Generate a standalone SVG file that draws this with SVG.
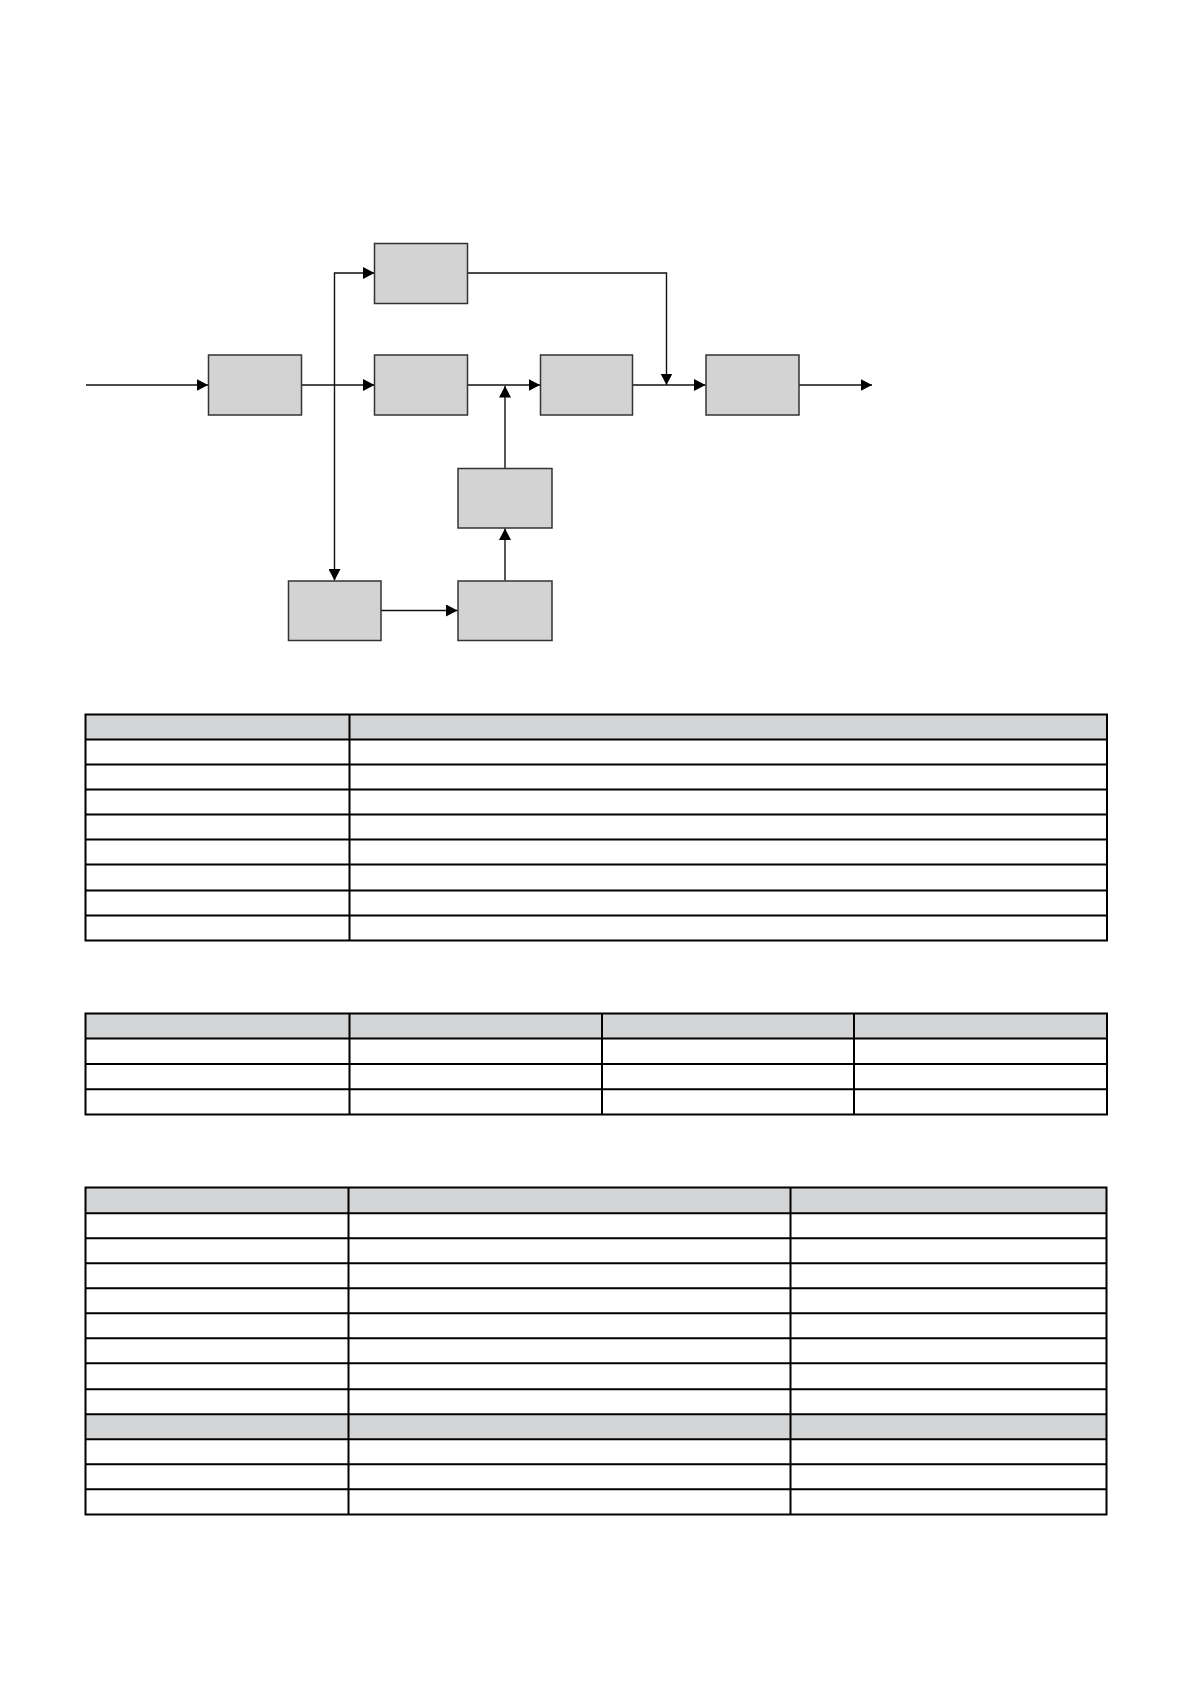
<svg xmlns="http://www.w3.org/2000/svg" width="1190" height="1684" viewBox="0 0 1190 1684">
<style>
.node{fill:#d3d3d3;stroke:#333;stroke-width:1.5}
.conn{fill:none;stroke:#111;stroke-width:1.4}
.tbl{fill:none;stroke:#000;stroke-width:2}
.hdr{fill:#d4d5d7;stroke:none}
</style>
<defs>
<marker id="arr" markerUnits="userSpaceOnUse" markerWidth="12" markerHeight="12" refX="11.5" refY="6" orient="auto">
<path d="M0,0 L11.5,6 L0,12 z" fill="#000"/>
</marker>
</defs>
<rect width="1190" height="1684" fill="#fff"/>
<g id="connectors">
<path class="conn" d="M86,385 H208" marker-end="url(#arr)"/>
<path class="conn" d="M301.5,385 H374.5" marker-end="url(#arr)"/>
<path class="conn" d="M334.5,385 V273 H374.5" marker-end="url(#arr)"/>
<path class="conn" d="M334.5,385 V580.5" marker-end="url(#arr)"/>
<path class="conn" d="M467.5,273 H666.5 V385" marker-end="url(#arr)"/>
<path class="conn" d="M467.5,385 H540" marker-end="url(#arr)"/>
<path class="conn" d="M632.5,385 H705.5" marker-end="url(#arr)"/>
<path class="conn" d="M798.5,385 H872" marker-end="url(#arr)"/>
<path class="conn" d="M381,610.5 H457.5" marker-end="url(#arr)"/>
<path class="conn" d="M505,580.5 V528.5" marker-end="url(#arr)"/>
<path class="conn" d="M505,468.5 V386" marker-end="url(#arr)"/>
</g>
<g id="node-in"><rect class="node" x="208.5" y="355" width="93" height="60"/></g>
<g id="node-top"><rect class="node" x="374.5" y="243.5" width="93" height="60"/></g>
<g id="node-mid1"><rect class="node" x="374.5" y="355" width="93" height="60"/></g>
<g id="node-mid2"><rect class="node" x="540.5" y="355" width="92" height="60"/></g>
<g id="node-out"><rect class="node" x="706" y="355" width="93" height="60"/></g>
<g id="node-feed"><rect class="node" x="458" y="468.5" width="94" height="59.5"/></g>
<g id="node-bl"><rect class="node" x="288.5" y="581" width="92.5" height="59.5"/></g>
<g id="node-br"><rect class="node" x="458" y="581" width="94" height="59.5"/></g>
<g id="table1">
<rect class="hdr" x="85.5" y="714.5" width="1021.5" height="25"/>
<rect class="tbl" x="85.5" y="714.5" width="1021.5" height="226"/>
<path class="tbl" d="M85.5,739.5 H1107 M85.5,764.5 H1107 M85.5,789.5 H1107 M85.5,814.5 H1107 M85.5,839.5 H1107 M85.5,864.5 H1107 M85.5,890.5 H1107 M85.5,915.5 H1107 M349.5,714.5 V940.5"/>
</g>
<g id="table2">
<rect class="hdr" x="85.5" y="1013.5" width="1021.5" height="25"/>
<rect class="tbl" x="85.5" y="1013.5" width="1021.5" height="101"/>
<path class="tbl" d="M85.5,1038.5 H1107 M85.5,1064 H1107 M85.5,1089.3 H1107 M349.5,1013.5 V1114.5 M602,1013.5 V1114.5 M854,1013.5 V1114.5"/>
</g>
<g id="table3">
<rect class="hdr" x="85.5" y="1187.5" width="1021" height="26"/>
<rect class="hdr" x="85.5" y="1414.3" width="1021" height="25"/>
<rect class="tbl" x="85.5" y="1187.5" width="1021" height="327"/>
<path class="tbl" d="M85.5,1213.3 H1106.5 M85.5,1238.3 H1106.5 M85.5,1263.3 H1106.5 M85.5,1288.3 H1106.5 M85.5,1313.3 H1106.5 M85.5,1338.3 H1106.5 M85.5,1363.3 H1106.5 M85.5,1389.3 H1106.5 M85.5,1414.3 H1106.5 M85.5,1439.3 H1106.5 M85.5,1464.3 H1106.5 M85.5,1489.3 H1106.5 M348.5,1187.5 V1514.5 M790.5,1187.5 V1514.5"/>
</g>
</svg>
